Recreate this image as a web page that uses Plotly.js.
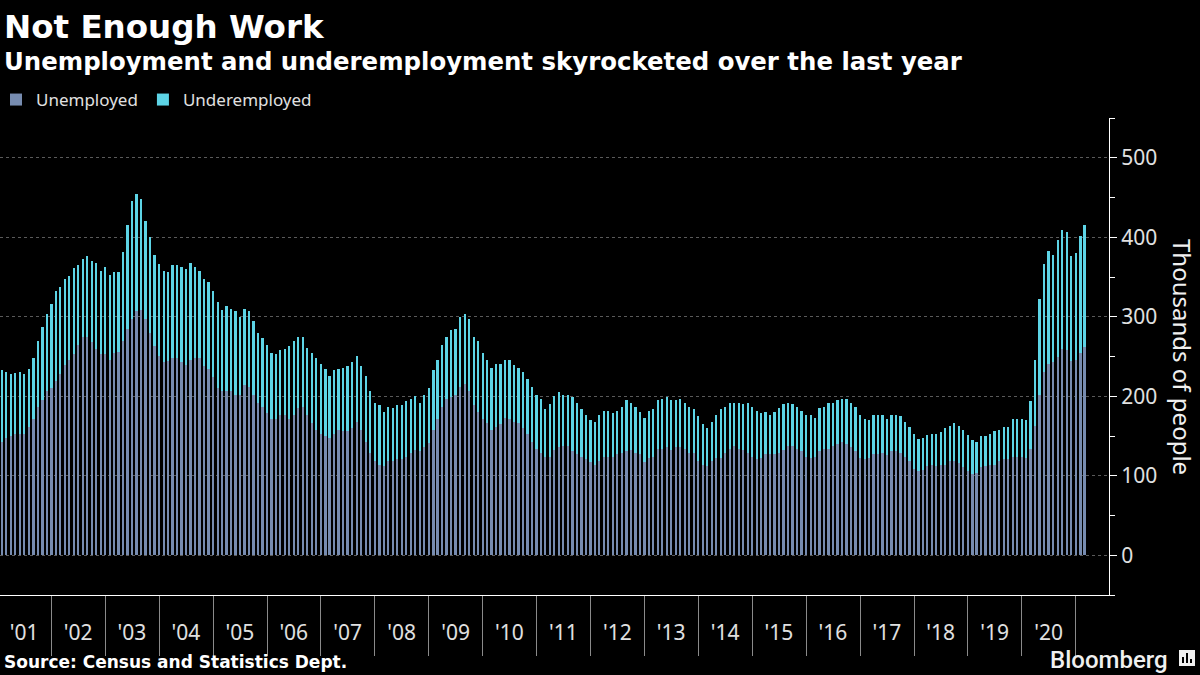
<!DOCTYPE html>
<html>
<head>
<meta charset="utf-8">
<script src="https://cdn.plot.ly/plotly-3.0.1.min.js"></script>
<style>
  html, body { margin: 0; padding: 0; background: #000; }
  #plot { width: 1200px; height: 675px; }
</style>
</head>
<body>
<div id="plot"></div>
<script>
// monthly readings (3-month moving average), Feb 2001 - Mar 2021, thousands of people
let firstMonth = [2001, 2];

let unemployed = [
    143, 148, 150, 153, 152, 152, 161, 172, 186, 195,
    206, 211, 219, 228, 239, 245, 253, 264, 275, 275,
    268, 260, 253, 253, 245, 255, 256, 270, 284, 297,
    307, 308, 297, 280, 263, 251, 243, 244, 248, 248,
    243, 239, 246, 248, 248, 238, 234, 224, 210, 206,
    206, 206, 201, 201, 214, 212, 202, 191, 187, 179,
    171, 172, 177, 177, 171, 176, 185, 187, 177, 166,
    158, 153, 150, 147, 152, 157, 156, 156, 160, 167,
    157, 143, 128, 118, 113, 112, 118, 119, 121, 121,
    124, 128, 133, 131, 136, 141, 157, 172, 187, 196,
    199, 202, 212, 216, 207, 189, 180, 171, 166, 158,
    161, 165, 173, 172, 167, 166, 160, 152, 142, 134,
    128, 123, 124, 132, 136, 138, 137, 131, 127, 124,
    121, 117, 113, 119, 123, 124, 123, 127, 129, 131,
    132, 129, 127, 117, 122, 124, 134, 134, 136, 133,
    136, 136, 134, 129, 128, 118, 113, 112, 119, 122,
    122, 128, 134, 137, 134, 132, 128, 123, 121, 122,
    127, 127, 127, 129, 133, 138, 137, 134, 131, 123,
    122, 123, 131, 134, 134, 137, 140, 142, 140, 136,
    131, 122, 121, 122, 127, 127, 128, 126, 131, 131,
    129, 124, 119, 109, 106, 107, 112, 113, 112, 113,
    114, 118, 118, 116, 111, 106, 102, 103, 111, 112,
    114, 114, 118, 121, 121, 124, 124, 124, 122, 134,
    162, 202, 230, 241, 243, 249, 259, 258, 244, 246,
    254, 262
];

let underemployed = [
    90, 82, 78, 76, 78, 76, 73, 76, 84, 92,
    98, 105, 113, 109, 109, 106, 108, 101, 98, 101,
    102, 107, 104, 109, 107, 101, 100, 111, 132, 148,
    147, 140, 124, 120, 115, 115, 114, 112, 117, 117,
    119, 121, 121, 115, 110, 110, 110, 108, 109, 103,
    108, 104, 106, 99, 96, 95, 93, 88, 86, 86,
    83, 81, 81, 83, 92, 93, 90, 87, 84, 88,
    90, 88, 84, 79, 81, 77, 79, 82, 83, 84,
    81, 83, 79, 74, 76, 68, 69, 66, 68, 68,
    70, 69, 67, 61, 65, 69, 76, 74, 78, 79,
    84, 83, 88, 87, 90, 86, 89, 84, 79, 77,
    79, 75, 73, 73, 72, 70, 71, 70, 70, 67,
    68, 61, 66, 68, 69, 64, 65, 68, 65, 60,
    55, 53, 54, 57, 59, 58, 56, 55, 57, 64,
    59, 58, 53, 56, 60, 60, 61, 62, 63, 62,
    59, 60, 57, 57, 56, 57, 52, 48, 48, 54,
    62, 58, 58, 55, 58, 58, 63, 63, 61, 57,
    53, 50, 53, 56, 57, 54, 53, 53, 51, 54,
    54, 50, 54, 53, 57, 54, 55, 55, 56, 56,
    55, 55, 51, 48, 49, 50, 48, 46, 45, 46,
    46, 44, 42, 43, 40, 40, 39, 40, 41, 42,
    46, 45, 48, 47, 46, 45, 43, 40, 39, 38,
    39, 42, 40, 40, 40, 47, 48, 48, 48, 60,
    83, 120, 136, 142, 135, 148, 150, 148, 133, 134,
    148, 154
];

let years = [2001, 2002, 2003, 2004, 2005, 2006, 2007, 2008, 2009, 2010,
             2011, 2012, 2013, 2014, 2015, 2016, 2017, 2018, 2019, 2020];

// month dates for each bar
let months = unemployed.map((v, i) => {
    let m = firstMonth[1] - 1 + i;
    let y = firstMonth[0] + Math.floor(m / 12);
    let mm = (m % 12) + 1;
    return y + '-' + String(mm).padStart(2, '0') + '-01';
});

// plot area in pixels, used to place the text bits around it
const TOP = 118, BOTTOM = 595, RIGHT = 1109;
function px(x) { return x / RIGHT; }
function py(y) { return (BOTTOM - y) / (BOTTOM - TOP); }

let textColor = '#e0e0e0';
let sansFont = 'Noto Sans, DejaVu Sans, sans-serif';
let boldFont = 'DejaVu Sans, sans-serif';

let unemployedTrace = {
    x: months,
    y: unemployed,
    name: 'Unemployed',
    type: 'bar',
    marker: { color: '#778cb0' },
    hoverinfo: 'skip'
};

let underemployedTrace = {
    x: months,
    y: underemployed,
    name: 'Underemployed',
    type: 'bar',
    marker: { color: '#5dd4e6' },
    hoverinfo: 'skip'
};

let data = [unemployedTrace, underemployedTrace];

let layout = {
    width: 1200,
    height: 675,
    paper_bgcolor: '#000',
    plot_bgcolor: '#000',
    barmode: 'stack',
    bargap: 0.45,
    margin: { l: 0, r: 1200 - RIGHT, t: TOP, b: 675 - BOTTOM, pad: 0, autoexpand: false },
    showlegend: true,
    legend: {
        orientation: 'h',
        x: px(-4),
        xanchor: 'left',
        y: py(100),
        yanchor: 'middle',
        font: { family: sansFont, size: 17, color: textColor },
        bgcolor: 'rgba(0,0,0,0)',
        traceorder: 'normal'
    },
    xaxis: {
        type: 'date',
        range: ['2001-01-18', '2021-08-14'],
        showgrid: false,
        zeroline: false,
        showline: true,
        linecolor: '#ffffff',
        linewidth: 1,
        tickmode: 'array',
        tickvals: years.map(y => y + '-07-01'),
        ticktext: years.map(y => "'" + String(y).slice(2)),
        ticks: 'outside',
        ticklen: 19,
        tickcolor: 'rgba(0,0,0,0)',
        tickfont: { family: sansFont, size: 21, color: textColor },
        minor: {
            tickmode: 'array',
            tickvals: years.map(y => (y + 1) + '-01-01'),
            ticks: 'outside',
            ticklen: 60,
            tickwidth: 1,
            tickcolor: '#8a8a8a',
            showgrid: false
        },
        fixedrange: true
    },
    yaxis: {
        side: 'right',
        range: [-50, 550],
        tick0: 0,
        dtick: 100,
        showgrid: true,
        gridcolor: '#5a5a5a',
        griddash: 'dot',
        gridwidth: 1,
        zeroline: false,
        showline: true,
        linecolor: '#ffffff',
        linewidth: 1,
        ticks: 'outside',
        ticklen: 7,
        tickcolor: '#ffffff',
        tickfont: { family: sansFont, size: 21, color: textColor },
        minor: {
            dtick: 50,
            tick0: 0,
            ticks: 'outside',
            ticklen: 5,
            tickcolor: '#ffffff',
            showgrid: false
        },
        fixedrange: true
    },
    annotations: [
        {
            text: '<b>Not Enough Work</b>',
            xref: 'paper', yref: 'paper',
            x: px(2), y: py(27),
            xanchor: 'left', yanchor: 'middle',
            showarrow: false,
            font: { family: boldFont, size: 32.5, color: '#ffffff' }
        },
        {
            text: '<b>Unemployment and underemployment skyrocketed over the last year</b>',
            xref: 'paper', yref: 'paper',
            x: px(2), y: py(61),
            xanchor: 'left', yanchor: 'middle',
            showarrow: false,
            font: { family: boldFont, size: 24.4, color: '#ffffff' }
        },
        {
            text: 'Thousands of people',
            xref: 'paper', yref: 'paper',
            x: px(1183), y: py(357),
            xanchor: 'center', yanchor: 'middle',
            textangle: 90,
            showarrow: false,
            font: { family: sansFont, size: 24, color: '#f0f0f0' }
        },
        {
            text: '<b>Source: Census and Statistics Dept.</b>',
            xref: 'paper', yref: 'paper',
            x: px(2), y: py(662),
            xanchor: 'left', yanchor: 'middle',
            showarrow: false,
            font: { family: boldFont, size: 17, color: '#ffffff' }
        },
        {
            text: 'Bloomberg',
            xref: 'paper', yref: 'paper',
            x: px(1170), y: py(660),
            xanchor: 'right', yanchor: 'middle',
            showarrow: false,
            font: { family: 'Roboto, Noto Sans, sans-serif', size: 24, weight: 500, color: '#f0f0f0' }
        }
    ],
    shapes: [
        // little Bloomberg badge
        {
            type: 'rect',
            xref: 'paper', yref: 'paper',
            x0: px(1179), x1: px(1195),
            y0: py(666), y1: py(650),
            fillcolor: '#f0f0f0',
            line: { width: 0 }
        },
        {
            type: 'rect',
            xref: 'paper', yref: 'paper',
            x0: px(1182), x1: px(1184),
            y0: py(663), y1: py(657),
            fillcolor: '#000',
            line: { width: 0 }
        },
        {
            type: 'rect',
            xref: 'paper', yref: 'paper',
            x0: px(1186), x1: px(1188),
            y0: py(663), y1: py(653),
            fillcolor: '#000',
            line: { width: 0 }
        },
        {
            type: 'rect',
            xref: 'paper', yref: 'paper',
            x0: px(1190), x1: px(1192),
            y0: py(663), y1: py(659),
            fillcolor: '#000',
            line: { width: 0 }
        }
    ]
};

Plotly.newPlot('plot', data, layout, { staticPlot: true, displayModeBar: false });
</script>
</body>
</html>
